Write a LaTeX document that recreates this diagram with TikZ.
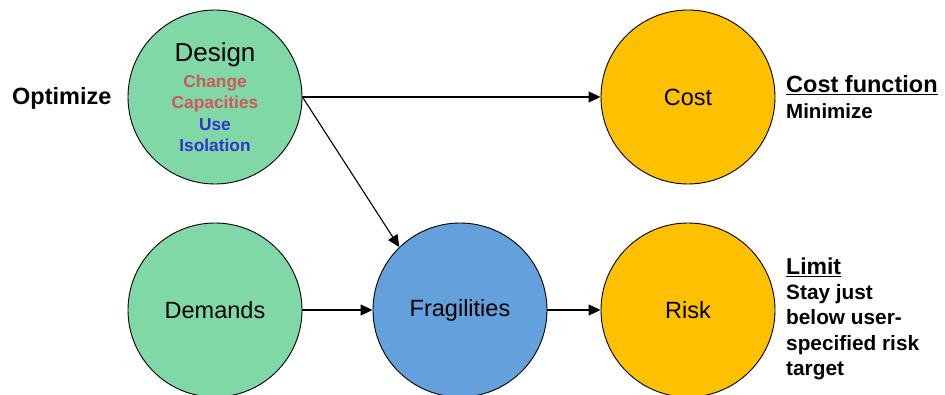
\documentclass[tikz,border=0pt]{standalone}
\usepackage{fontspec}
\setmainfont{Liberation Sans}
\usetikzlibrary{arrows.meta}
\definecolor{softgreen}{RGB}{128,216,166}
\definecolor{gold}{RGB}{255,192,0}
\definecolor{skyblue}{RGB}{100,160,219}
\definecolor{softred}{RGB}{208,88,88}
\definecolor{inkblue}{RGB}{52,52,204}
\newcommand{\thickul}[1]{\underline{#1}}
\begin{document}
\begin{tikzpicture}[x=1pt,y=-1pt,
                   ball/.style={circle,draw=black,line width=0.9pt,minimum size=174pt,inner sep=0pt,
                                font=\fontsize{23.5}{26}\selectfont},
                   link/.style={draw,line width=1.1pt,-{Triangle[length=12pt,width=11pt]}},
                   note/.style={anchor=north west,align=left,inner sep=0pt,
                                font=\bfseries\fontsize{20.8}{25.3}\selectfont}]
\useasboundingbox (0,0) rectangle (945,395);
\node[ball,fill=softgreen,align=center,font=\bfseries\fontsize{17.3}{21.5}\selectfont] (design) at (215,97)
  {{\mdseries\fontsize{26}{26}\selectfont Design}\\[4.5pt]
   \textcolor{softred}{Change}\\
   \textcolor{softred}{Capacities}\\
   \textcolor{inkblue}{Use}\\
   \textcolor{inkblue}{Isolation}};
\node[ball,fill=gold] (cost) at (688,97) {Cost};
\node[ball,fill=softgreen] (demands) at (215,310) {Demands};
\node[ball,fill=skyblue] (fragilities) at (460,310) {Fragilities};
\node[ball,fill=gold] (risk) at (688,310) {Risk};
\node[anchor=base west,inner sep=0pt,font=\bfseries\fontsize{23.5}{26}\selectfont] (optimize) at (12,105) {Optimize};
\node[note,font=\bfseries\fontsize{20.5}{26}\selectfont] (costfn) at (786,75)
  {{\fontsize{23.5}{26}\selectfont\thickul{Cost function}}\\
   Minimize};
\node[note] (limit) at (786,257.5)
  {{\fontsize{23}{25.3}\selectfont\thickul{Limit}}\\
   Stay just\\
   below user-\\
   specified risk\\
   target};
\draw[link] (design.east) -- (cost.west);
\draw[link] (design.east) -- (fragilities.134);
\draw[link] (demands.east) -- (fragilities.west);
\draw[link] (fragilities.east) -- (risk.west);
\end{tikzpicture}
\end{document}
